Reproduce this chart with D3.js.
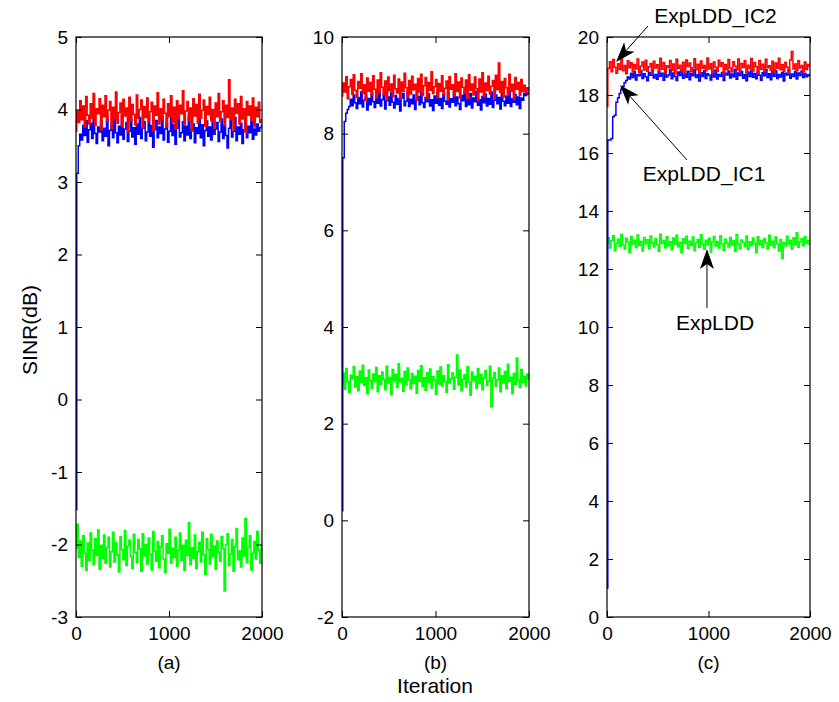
<!DOCTYPE html>
<html>
<head>
<meta charset="utf-8">
<script src="https://cdn.jsdelivr.net/npm/d3@7"></script>
<style>
  html, body { margin: 0; padding: 0; background: #fff; }
  svg { display: block; }
  text { font-family: Arial, "Liberation Sans", sans-serif; fill: #000; }
</style>
</head>
<body>
<svg id="chart" width="839" height="702"></svg>
<script>
// ---- data: SINR (dB) sampled every 16 iterations, 0..2000 ----
const iterationMax = 2000;
const xTicks = [0, 1000, 2000];
const panelLabels = ["(a)", "(b)", "(c)"];
const seriesNames = ["ExpLDD", "ExpLDD_IC1", "ExpLDD_IC2"];
const seriesColors = ["#00ff00", "#0000ff", "#ff0000"];

const yTicksA = [-3, -2, -1, 0, 1, 2, 3, 4, 5];
const yTicksB = [-2, 0, 2, 4, 6, 8, 10];
const yTicksC = [0, 2, 4, 6, 8, 10, 12, 14, 16, 18, 20];

const expLddA = [
  -2.05, -1.72, -2.18, -1.95, -2.30, -1.88, -2.12, -2.36, -1.98, -2.22,
  -1.84, -2.08, -2.28, -1.92, -2.15, -1.80, -2.34, -2.01, -2.19, -1.87,
  -2.26, -2.04, -1.90, -2.31, -2.10, -1.83, -2.24, -1.97, -2.14, -2.38,
  -1.89, -2.07, -2.21, -1.81, -2.29, -2.02, -1.94, -2.17, -2.33, -1.86,
  -2.11, -2.25, -1.93, -2.06, -2.37, -1.85, -2.16, -2.00, -2.27, -1.91,
  -2.13, -2.35, -1.82, -2.09, -2.23, -1.96, -2.32, -2.03, -1.88, -2.20,
  -2.39, -1.99, -2.12, -1.79, -2.26, -2.05, -2.18, -1.90, -2.30, -2.08,
  -1.84, -2.22, -2.01, -2.36, -1.94, -2.15, -1.70, -2.28, -2.04, -2.19,
  -1.87, -2.33, -2.10, -1.97, -2.24, -1.83, -2.14, -2.41, -1.92, -2.07,
  -2.27, -1.86, -2.17, -2.02, -2.34, -1.95, -2.11, -2.23, -1.89, -2.06,
  -2.64, -2.00, -1.85, -2.29, -2.13, -1.93, -2.37, -2.03, -1.78, -2.21,
  -2.09, -2.31, -1.91, -2.16, -1.64, -2.25, -2.04, -1.88, -2.35, -2.12,
  -1.96, -2.20, -1.82, -2.08, -2.26, -2.00
];
const ic1A = [
  -1.52, 3.12, 3.50, 3.66, 3.58, 3.78, 3.64, 3.85, 3.55, 3.72,
  3.81, 3.60, 3.90, 3.67, 3.53, 3.76, 3.69, 3.84, 3.57, 3.74,
  3.63, 3.88, 3.50, 3.71, 3.79, 3.61, 3.86, 3.68, 3.54, 3.77,
  3.65, 3.92, 3.59, 3.73, 3.82, 3.56, 3.70, 3.87, 3.62, 3.75,
  3.52, 3.80, 3.66, 3.89, 3.60, 3.74, 3.83, 3.57, 3.69, 3.93,
  3.63, 3.78, 3.48, 3.72, 3.85, 3.61, 3.76, 3.67, 3.90, 3.58,
  3.73, 3.81, 3.55, 3.70, 3.95, 3.64, 3.79, 3.52, 3.74, 3.86,
  3.62, 3.68, 3.83, 3.57, 3.77, 3.65, 3.91, 3.60, 3.72, 3.80,
  3.54, 3.75, 3.67, 3.88, 3.61, 3.79, 3.50, 3.71, 3.84, 3.63,
  3.76, 3.58, 3.92, 3.66, 3.73, 3.82, 3.56, 3.69, 3.87, 3.60,
  3.78, 3.64, 3.47, 3.74, 3.85, 3.62, 3.70, 3.89, 3.57, 3.76,
  3.66, 3.81, 3.53, 3.72, 3.94, 3.61, 3.77, 3.68, 3.86, 3.59,
  3.73, 3.65, 3.80, 3.70, 3.75, 3.78
];
const ic2A = [
  3.70, 3.98, 3.82, 4.12, 3.86, 4.05, 3.76, 4.18, 3.92, 3.80,
  4.08, 3.88, 4.22, 3.78, 4.01, 3.94, 4.15, 3.72, 4.06, 3.90,
  4.19, 3.84, 3.99, 4.11, 3.74, 4.03, 3.87, 4.24, 3.81, 3.96,
  4.09, 3.77, 4.14, 3.91, 4.02, 3.69, 4.17, 3.85, 4.07, 3.93,
  3.79, 4.20, 3.88, 4.00, 4.13, 3.75, 4.04, 3.89, 4.16, 3.83,
  3.97, 4.10, 3.71, 4.05, 3.92, 4.23, 3.80, 4.01, 3.86, 4.14,
  3.95, 3.76, 4.08, 3.90, 4.19, 3.82, 4.03, 3.73, 4.12, 3.87,
  4.06, 3.94, 4.26, 3.79, 3.98, 4.11, 3.84, 4.02, 3.70, 4.15,
  3.91, 4.07, 3.81, 4.21, 3.88, 3.99, 4.13, 3.77, 4.04, 3.93,
  4.17, 3.85, 4.00, 3.74, 4.09, 3.90, 4.22, 3.83, 3.97, 4.12,
  3.78, 4.06, 3.89, 4.41, 3.86, 4.02, 3.72, 4.14, 3.95, 4.08,
  3.80, 4.18, 3.87, 4.01, 3.69, 4.11, 3.92, 4.05, 3.84, 4.16,
  3.76, 4.03, 3.90, 4.10, 3.82, 3.86
];

const expLddB = [
  2.82, 3.05, 2.71, 3.14, 2.88, 2.64, 3.00, 2.93, 3.18, 2.76,
  2.97, 2.68, 3.09, 2.85, 3.21, 2.79, 2.95, 2.62, 3.11, 2.90,
  2.73, 3.03, 2.87, 3.16, 2.66, 2.99, 2.81, 3.07, 2.92, 2.70,
  3.19, 2.84, 2.96, 2.60, 3.12, 2.89, 3.02, 2.75, 3.24, 2.86,
  2.94, 2.67, 3.08, 2.80, 3.15, 2.91, 2.72, 3.04, 2.83, 2.98,
  2.63, 3.10, 2.88, 3.20, 2.77, 2.95, 2.69, 3.06, 2.85, 3.13,
  2.74, 2.97, 2.90, 2.61, 3.09, 2.82, 3.17, 2.78, 2.99, 2.87,
  2.65, 3.22, 2.84, 2.93, 3.05, 2.71, 2.96, 3.42, 2.80, 3.11,
  2.68, 2.92, 3.01, 2.76, 3.18, 2.86, 2.59, 3.07, 2.89, 2.97,
  2.73, 3.14, 2.83, 3.02, 2.70, 2.95, 3.10, 2.79, 2.88, 3.19,
  2.35, 2.94, 3.06, 2.77, 2.91, 3.15, 2.66, 2.99, 2.84, 3.08,
  2.72, 3.23, 2.87, 2.96, 2.62, 3.04, 2.81, 3.36, 2.90, 2.75,
  3.12, 2.85, 2.98, 2.78, 3.03, 2.92
];
const ic1B = [
  0.20, 7.50, 8.25, 8.42, 8.50, 8.56, 8.71, 8.58, 8.80, 8.64,
  8.52, 8.75, 8.62, 8.86, 8.55, 8.69, 8.78, 8.49, 8.73, 8.60,
  8.84, 8.66, 8.54, 8.77, 8.63, 8.89, 8.57, 8.70, 8.81, 8.51,
  8.68, 8.76, 8.59, 8.85, 8.65, 8.53, 8.79, 8.61, 8.72, 8.47,
  8.74, 8.83, 8.58, 8.67, 8.88, 8.56, 8.71, 8.62, 8.80, 8.50,
  8.69, 8.77, 8.60, 8.86, 8.64, 8.54, 8.75, 8.66, 8.82, 8.57,
  8.70, 8.48, 8.78, 8.63, 8.87, 8.59, 8.73, 8.52, 8.81, 8.67,
  8.61, 8.84, 8.55, 8.72, 8.65, 8.90, 8.58, 8.76, 8.62, 8.50,
  8.79, 8.68, 8.85, 8.56, 8.71, 8.60, 8.83, 8.53, 8.74, 8.66,
  8.88, 8.59, 8.70, 8.49, 8.77, 8.64, 8.82, 8.57, 8.73, 8.61,
  8.86, 8.54, 8.69, 8.80, 8.62, 8.75, 8.51, 8.84, 8.67, 8.58,
  8.78, 8.63, 8.90, 8.56, 8.72, 8.65, 8.81, 8.60, 8.76, 8.52,
  8.74, 8.69, 8.83, 8.79, 8.85, 8.82
];
const ic2B = [
  8.78, 9.05, 8.86, 9.18, 8.72, 8.97, 9.12, 8.81, 9.22, 8.90,
  8.75, 9.08, 8.94, 9.24, 8.83, 9.01, 8.69, 9.15, 8.88, 9.06,
  8.79, 9.20, 8.92, 8.74, 9.11, 8.85, 9.26, 8.96, 8.80, 9.09,
  8.70, 9.17, 8.89, 9.03, 8.77, 9.21, 8.93, 8.84, 9.13, 8.71,
  9.07, 8.87, 9.25, 8.95, 8.76, 9.10, 8.82, 9.19, 8.91, 9.02,
  8.68, 9.14, 8.86, 9.23, 8.79, 8.99, 9.16, 8.73, 9.06, 8.90,
  9.28, 8.83, 8.97, 9.12, 8.75, 9.04, 8.88, 9.20, 8.81, 8.94,
  9.09, 8.70, 9.18, 8.92, 9.01, 8.78, 9.24, 8.87, 9.07, 8.74,
  9.15, 8.96, 8.84, 9.11, 8.72, 9.22, 8.90, 9.03, 8.80, 9.17,
  8.93, 8.69, 9.13, 8.86, 9.26, 8.77, 9.05, 8.89, 9.19, 8.82,
  8.98, 9.10, 8.73, 9.21, 8.91, 9.46, 8.85, 9.08, 8.76, 9.14,
  8.95, 8.81, 9.23, 8.88, 9.02, 8.71, 9.16, 8.92, 9.06, 8.79,
  9.12, 8.87, 9.00, 8.84, 8.95, 8.90
];

const expLddC = [
  12.90, 13.08, 12.72, 12.97, 13.15, 12.64, 12.88, 13.03, 12.78, 13.19,
  12.83, 12.69, 13.06, 12.93, 12.58, 13.12, 12.86, 12.99, 12.74, 13.17,
  12.81, 12.95, 12.62, 13.09, 12.87, 13.01, 12.70, 13.14, 12.91, 12.76,
  13.05, 12.84, 12.60, 13.20, 12.89, 12.98, 12.73, 13.11, 12.80, 12.94,
  12.66, 13.07, 12.85, 13.16, 12.77, 12.92, 12.57, 13.04, 12.88, 13.13,
  12.71, 12.96, 12.82, 13.10, 12.63, 12.90, 13.02, 12.75, 13.18, 12.86,
  12.68, 12.99, 12.84, 13.06, 12.59, 12.93, 13.12, 12.79, 12.95, 12.72,
  13.15, 12.87, 12.65, 13.03, 12.89, 12.76, 13.09, 12.83, 12.97, 12.61,
  13.19, 12.85, 12.70, 13.00, 12.92, 12.78, 13.14, 12.67, 12.94, 12.81,
  13.07, 12.88, 12.56, 13.11, 12.84, 12.98, 12.74, 13.05, 12.90, 12.69,
  13.16, 12.82, 12.96, 12.73, 13.10, 12.87, 12.62, 13.02, 12.36, 12.91,
  12.79, 13.13, 12.86, 12.99, 12.68, 13.08, 12.83, 13.25, 12.75, 12.94,
  13.04, 12.80, 13.12, 12.89, 12.97, 12.85
];
const ic1C = [
  1.00, 16.45, 16.45, 16.50, 17.25, 17.30, 17.75, 17.90, 18.05, 18.20,
  18.30, 18.42, 18.50, 18.62, 18.55, 18.74, 18.60, 18.81, 18.52, 18.70,
  18.66, 18.84, 18.57, 18.73, 18.63, 18.49, 18.78, 18.68, 18.86, 18.59,
  18.71, 18.54, 18.80, 18.65, 18.75, 18.51, 18.83, 18.62, 18.69, 18.88,
  18.56, 18.76, 18.64, 18.50, 18.79, 18.67, 18.85, 18.58, 18.72, 18.61,
  18.82, 18.53, 18.74, 18.66, 18.87, 18.60, 18.70, 18.48, 18.77, 18.64,
  18.84, 18.57, 18.73, 18.68, 18.52, 18.80, 18.62, 18.86, 18.55, 18.71,
  18.65, 18.78, 18.50, 18.75, 18.69, 18.83, 18.59, 18.72, 18.63, 18.88,
  18.54, 18.76, 18.67, 18.81, 18.58, 18.70, 18.49, 18.79, 18.64, 18.85,
  18.61, 18.74, 18.56, 18.82, 18.68, 18.51, 18.77, 18.66, 18.87, 18.60,
  18.73, 18.53, 18.80, 18.65, 18.84, 18.57, 18.71, 18.62, 18.78, 18.48,
  18.75, 18.69, 18.86, 18.58, 18.72, 18.64, 18.81, 18.55, 18.76, 18.67,
  18.83, 18.60, 18.74, 18.63, 18.70, 18.66
];
const ic2C = [
  17.60, 18.92, 19.15, 18.80, 19.22, 18.96, 18.75, 19.08, 18.88, 19.26,
  18.84, 19.02, 18.73, 19.18, 18.94, 19.11, 18.79, 19.05, 18.90, 19.24,
  18.77, 19.00, 19.14, 18.86, 19.20, 18.82, 18.97, 19.09, 18.74, 19.16,
  18.93, 19.04, 18.81, 19.27, 18.89, 19.12, 18.76, 19.01, 18.95, 19.19,
  18.85, 19.07, 18.72, 19.23, 18.91, 19.03, 18.83, 19.13, 18.78, 19.21,
  18.98, 19.10, 18.80, 18.94, 19.25, 18.87, 19.06, 18.75, 19.17, 18.92,
  19.02, 18.84, 19.28, 18.90, 19.08, 18.77, 19.14, 18.96, 18.82, 19.20,
  18.99, 19.11, 18.73, 19.05, 18.88, 19.22, 18.93, 18.79, 19.15, 19.00,
  18.86, 19.24, 18.81, 19.09, 18.95, 19.18, 18.76, 19.03, 18.91, 19.26,
  18.83, 19.12, 18.97, 18.74, 19.19, 18.89, 19.06, 18.80, 19.23, 18.94,
  19.01, 18.85, 19.16, 18.78, 19.10, 18.92, 19.27, 18.87, 19.04, 18.82,
  19.13, 18.96, 18.75, 19.21, 19.50, 18.90, 19.07, 18.84, 19.18, 18.93,
  19.02, 18.79, 19.14, 18.88, 19.05, 18.98
];

// annotation arrows in panel (c): label position, line start, arrow tip (iteration, dB)
const annoText  = ["ExpLDD_IC2", "ExpLDD_IC1", "ExpLDD"];
const annoLabel = [[1069, 20.72], [956, 15.28], [1064, 10.14]];
const annoFrom  = [[404, 20.38], [788, 15.76], [985, 10.66]];
const annoTip   = [[89, 19.14], [128, 18.34], [985, 12.69]];

// ---- layout ----
const svg = d3.select("#chart");
svg.append("rect").attr("width", 839).attr("height", 702).attr("fill", "#fff");

const plotTop = 37, plotBottom = 617;
const boxes = [
  { left: 76,  right: 262, domain: [-3, 5],  ticks: yTicksA, series: [expLddA, ic1A, ic2A] },
  { left: 342, right: 529, domain: [-2, 10], ticks: yTicksB, series: [expLddB, ic1B, ic2B] },
  { left: 607, right: 810, domain: [0, 20],  ticks: yTicksC, series: [expLddC, ic1C, ic2C] }
];

const tickLen = 6;
let panelC = null;

boxes.forEach((b, pi) => {
  const x = d3.scaleLinear().domain([0, iterationMax]).range([b.left, b.right]);
  const y = d3.scaleLinear().domain(b.domain).range([plotBottom, plotTop]);
  const g = svg.append("g");

  // series: green, then blue, then red on top; step curve gives the
  // vertical-stroke texture of a densely sampled noisy trace
  b.series.forEach((vals, si) => {
    const step = iterationMax / (vals.length - 1);
    const line = d3.line()
      .curve(d3.curveStep)
      .x((d, i) => x(i * step))
      .y(d => y(d));
    g.append("path")
      .attr("d", line(vals))
      .attr("fill", "none")
      .attr("stroke", seriesColors[si])
      .attr("stroke-width", 1.5)
      .attr("stroke-linejoin", "miter");
  });

  // axes with inward ticks on all four sides
  const fmt = d => String(d);
  const axL = g.append("g").attr("transform", `translate(${b.left},0)`)
    .call(d3.axisLeft(y).tickValues(b.ticks).tickSizeInner(-tickLen).tickSizeOuter(0).tickPadding(8).tickFormat(fmt));
  const axR = g.append("g").attr("transform", `translate(${b.right},0)`)
    .call(d3.axisRight(y).tickValues(b.ticks).tickSizeInner(-tickLen).tickSizeOuter(0).tickFormat(""));
  const axB = g.append("g").attr("transform", `translate(0,${plotBottom})`)
    .call(d3.axisBottom(x).tickValues(xTicks).tickSizeInner(-tickLen).tickSizeOuter(0).tickPadding(10).tickFormat(fmt));
  const axT = g.append("g").attr("transform", `translate(0,${plotTop})`)
    .call(d3.axisTop(x).tickValues(xTicks).tickSizeInner(-tickLen).tickSizeOuter(0).tickFormat(""));
  [axL, axR, axB, axT].forEach(a => {
    a.select(".domain").remove();
    a.selectAll(".tick line").attr("stroke", "#000").attr("stroke-width", 1);
    a.selectAll("text").attr("font-size", 19).attr("fill", "#000")
      .attr("font-family", 'Arial, "Liberation Sans", sans-serif');
  });

  // frame
  g.append("rect")
    .attr("x", b.left).attr("y", plotTop)
    .attr("width", b.right - b.left).attr("height", plotBottom - plotTop)
    .attr("fill", "none").attr("stroke", "#000").attr("stroke-width", 1.2);

  // subplot caption
  svg.append("text")
    .attr("x", (b.left + b.right) / 2).attr("y", 669)
    .attr("text-anchor", "middle").attr("font-size", 19)
    .text(panelLabels[pi]);

  if (pi === 2) panelC = { x, y };
});

// axis titles
svg.append("text")
  .attr("x", 435).attr("y", 693)
  .attr("text-anchor", "middle").attr("font-size", 21)
  .text("Iteration");
svg.append("text")
  .attr("transform", "translate(37,330) rotate(-90)")
  .attr("text-anchor", "middle").attr("font-size", 21)
  .text("SINR(dB)");

// annotations with filled arrowheads
const anno = svg.append("g");
annoText.forEach((t, k) => {
  const { x, y } = panelC;
  const x0 = x(annoFrom[k][0]), y0 = y(annoFrom[k][1]);
  const x1 = x(annoTip[k][0]),  y1 = y(annoTip[k][1]);
  const ang = Math.atan2(y1 - y0, x1 - x0);
  const L = 20, W = 7, notch = 5;
  anno.append("line")
    .attr("x1", x0).attr("y1", y0)
    .attr("x2", x1 - Math.cos(ang) * (L - notch)).attr("y2", y1 - Math.sin(ang) * (L - notch))
    .attr("stroke", "#000").attr("stroke-width", 1);
  const head = [[0, 0], [-L, W], [-L + notch, 0], [-L, -W]];
  anno.append("path")
    .attr("d", d3.line()(head))
    .attr("transform", `translate(${x1},${y1}) rotate(${ang * 180 / Math.PI})`)
    .attr("fill", "#000");
  anno.append("text")
    .attr("x", x(annoLabel[k][0])).attr("y", y(annoLabel[k][1]))
    .attr("dy", "0.35em")
    .attr("text-anchor", "middle").attr("font-size", 21)
    .text(t);
});
</script>
</body>
</html>
